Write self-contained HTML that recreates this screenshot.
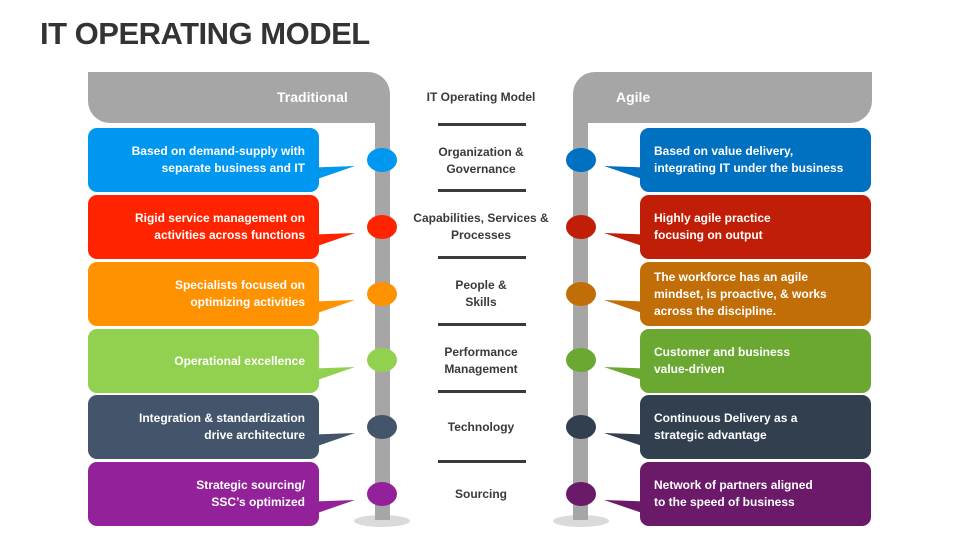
<!DOCTYPE html>
<html><head><meta charset="utf-8"><style>
body{margin:0;width:960px;height:540px;background:#fff;position:relative;overflow:hidden;font-family:"Liberation Sans",sans-serif}
.t{position:absolute;left:40px;top:16px;font-size:31px;font-weight:bold;color:#333;letter-spacing:-0.5px}
.box{position:absolute;width:231px;height:64px;border-radius:9px;color:#fff;font-size:12px;font-weight:bold;display:flex;align-items:center;line-height:17px}
.l{left:88px;justify-content:flex-end;text-align:right;padding-right:14px;box-sizing:border-box}
.r{left:640px;padding-left:14px;box-sizing:border-box}
.mid{position:absolute;left:410px;width:142px;text-align:center;font-size:12px;font-weight:bold;color:#3a3a3a;line-height:17px}
.ln{position:absolute;left:438px;width:88px;height:3px;background:#3a3a3a}
.hd{position:absolute;color:#fff;font-weight:bold;font-size:14px}
</style></head><body>
<div class="t">IT OPERATING MODEL</div>
<svg width="960" height="540" style="position:absolute;left:0;top:0">
<ellipse cx="382" cy="521" rx="28" ry="6" fill="#d9dbdb"/>
<ellipse cx="581" cy="521" rx="28" ry="6" fill="#d9dbdb"/>
<path d="M88 72 H368 A22 22 0 0 1 390 94 V520 H375 V123 H110 A22 22 0 0 1 88 101 Z" fill="#a6a6a6"/>
<path d="M872 72 H595 A22 22 0 0 0 573 94 V520 H588 V123 H850 A22 22 0 0 0 872 101 Z" fill="#a6a6a6"/>
<g id="tails">
<polygon points="300,168 355,166 300,185" fill="#0097f0"/>
<polygon points="300,235 355,233 300,252" fill="#ff2300"/>
<polygon points="300,302 355,300 300,319" fill="#ff9200"/>
<polygon points="300,369 355,367 300,386" fill="#92d050"/>
<polygon points="300,435 355,433 300,452" fill="#44546a"/>
<polygon points="300,502 355,500 300,519" fill="#93229a"/>
<polygon points="660,168 604,166 660,185" fill="#0070c0"/>
<polygon points="660,235 604,233 660,252" fill="#c01e06"/>
<polygon points="660,302 604,300 660,319" fill="#c26e08"/>
<polygon points="660,369 604,367 660,386" fill="#6aa832"/>
<polygon points="660,435 604,433 660,452" fill="#323f4f"/>
<polygon points="660,502 604,500 660,519" fill="#6b1a6a"/>
</g>
<ellipse cx="382" cy="160" rx="15" ry="12" fill="#0097f0"/>
<ellipse cx="382" cy="227" rx="15" ry="12" fill="#ff2300"/>
<ellipse cx="382" cy="294" rx="15" ry="12" fill="#ff9200"/>
<ellipse cx="382" cy="360" rx="15" ry="12" fill="#92d050"/>
<ellipse cx="382" cy="427" rx="15" ry="12" fill="#44546a"/>
<ellipse cx="382" cy="494" rx="15" ry="12" fill="#93229a"/>
<ellipse cx="581" cy="160" rx="15" ry="12" fill="#0070c0"/>
<ellipse cx="581" cy="227" rx="15" ry="12" fill="#c01e06"/>
<ellipse cx="581" cy="294" rx="15" ry="12" fill="#c26e08"/>
<ellipse cx="581" cy="360" rx="15" ry="12" fill="#6aa832"/>
<ellipse cx="581" cy="427" rx="15" ry="12" fill="#323f4f"/>
<ellipse cx="581" cy="494" rx="15" ry="12" fill="#6b1a6a"/>
</svg>
<div class="hd" style="left:277px;top:89px">Traditional</div>
<div class="hd" style="left:616px;top:89px">Agile</div>
<div class="mid" style="top:89px">IT Operating Model</div>
<div class="ln" style="top:123px"></div>
<div class="mid" style="top:144px">Organization &amp;<br>Governance</div>
<div class="ln" style="top:189px"></div>
<div class="mid" style="top:210px">Capabilities, Services &amp;<br>Processes</div>
<div class="ln" style="top:256px"></div>
<div class="mid" style="top:277px">People &amp;<br>Skills</div>
<div class="ln" style="top:323px"></div>
<div class="mid" style="top:344px">Performance<br>Management</div>
<div class="ln" style="top:390px"></div>
<div class="mid" style="top:419px">Technology</div>
<div class="ln" style="top:460px"></div>
<div class="mid" style="top:486px">Sourcing</div>

<div class="box l" style="top:128px;background:#0097f0">Based on demand-supply with<br>separate business and IT</div>
<div class="box l" style="top:195px;background:#ff2300">Rigid service management on<br>activities across functions</div>
<div class="box l" style="top:262px;background:#ff9200">Specialists focused on<br>optimizing activities</div>
<div class="box l" style="top:329px;background:#92d050">Operational excellence</div>
<div class="box l" style="top:395px;background:#44546a">Integration &amp; standardization<br>drive architecture</div>
<div class="box l" style="top:462px;background:#93229a">Strategic sourcing/<br>SSC’s optimized</div>

<div class="box r" style="top:128px;background:#0070c0">Based on value delivery,<br>integrating IT under the business</div>
<div class="box r" style="top:195px;background:#c01e06">Highly agile practice<br>focusing on output</div>
<div class="box r" style="top:262px;background:#c26e08">The workforce has an agile<br>mindset, is proactive, &amp; works<br>across the discipline.</div>
<div class="box r" style="top:329px;background:#6aa832">Customer and business<br>value-driven</div>
<div class="box r" style="top:395px;background:#323f4f">Continuous Delivery as a<br>strategic advantage</div>
<div class="box r" style="top:462px;background:#6b1a6a">Network of partners aligned<br>to the speed of business</div>
</body></html>
